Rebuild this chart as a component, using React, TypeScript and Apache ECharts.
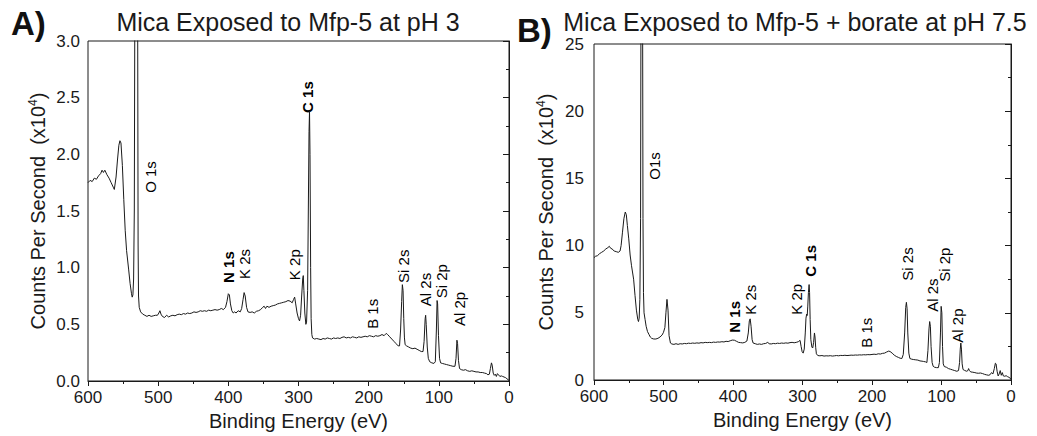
import React, { useEffect, useRef } from "react";
import * as echarts from "echarts";

const FONT = '"Liberation Sans", Arial, Helvetica, sans-serif';
const INK = "#1a1a1a";

// ---------- Panel A: Mica exposed to Mfp-5 at pH 3 (counts x10^4) ----------
const energyA = [
  600, 597, 594, 591, 588, 585, 582, 580, 578, 576, 573, 570, 567, 564, 562.5, 560, 558, 556, 554.5, 553, 551, 549, 547, 545, 542, 540, 538, 537, 536, 535, 534, 533.2, 532, 530.5, 529.3, 528.6, 528, 527, 525, 522, 519, 516, 513, 510, 507, 504, 501, 499, 497.5, 496, 494, 491, 488, 485, 482, 479, 476, 473, 470, 467, 464, 461, 458, 455, 452, 449, 446, 443, 440, 437, 434, 431, 428, 425, 422, 419, 416, 413, 410, 407, 404, 402, 400, 398.5, 397, 395, 393, 391, 389, 386, 383, 381, 379, 377.5, 376, 374, 372, 369, 366, 363, 360, 357, 354, 351, 349, 347, 345, 342, 339, 336, 333, 330, 327, 324, 321, 318, 315, 312, 309, 307, 305.5, 304, 302, 300, 298.5, 297, 295.5, 294, 293.2, 292.3, 291, 289.5, 288.5, 287, 286, 285, 284.3, 283.6, 282.7, 282, 281, 280, 277, 274, 271, 268, 265, 262, 259, 256, 253, 250, 247, 244, 241, 238, 235, 232, 229, 226, 223, 220, 217, 214, 211, 208, 205, 202, 199, 196, 193, 190, 187, 184, 181, 178, 175, 173, 170, 167, 164, 161, 158, 156, 154.5, 153, 152, 151, 150, 149, 148, 146, 143, 140, 137, 134, 131, 128, 125, 122.5, 121, 119.5, 118.8, 118, 116.5, 115, 113, 110, 107, 105, 103.5, 102.5, 101.7, 100.5, 99, 97.5, 95, 92, 89, 86, 83, 80, 77, 75.5, 74.2, 73.3, 72, 70.5, 68, 65, 62, 59, 56, 53, 50, 47, 44, 41, 38, 35, 32, 30, 28, 26.5, 25, 24, 22.5, 21, 19.5, 18, 16.5, 15, 13, 11, 9, 7, 5, 3, 1, 0,
];
const countsA = [
  1.75, 1.77, 1.76, 1.79, 1.78, 1.81, 1.83, 1.86, 1.84, 1.86, 1.82, 1.79, 1.75, 1.71, 1.69, 1.8, 1.95, 2.08, 2.12, 2.1, 1.9, 1.6, 1.33, 1.15, 0.98, 0.86, 0.77, 0.74, 0.76, 0.9, 1.5, 3.5, 20, 20, 3.5, 1.2, 0.75, 0.65, 0.61, 0.59, 0.58, 0.57, 0.58, 0.57, 0.575, 0.58, 0.58, 0.6, 0.62, 0.59, 0.57, 0.56, 0.58, 0.565, 0.575, 0.58, 0.575, 0.585, 0.59, 0.585, 0.595, 0.59, 0.6, 0.595, 0.6, 0.61, 0.605, 0.61, 0.62, 0.615, 0.62, 0.615, 0.625, 0.62, 0.625, 0.63, 0.625, 0.63, 0.64, 0.63, 0.65, 0.7, 0.77, 0.76, 0.68, 0.62, 0.6, 0.61, 0.6, 0.62, 0.61, 0.64, 0.72, 0.78, 0.75, 0.65, 0.61, 0.605, 0.61, 0.6, 0.615, 0.62, 0.63, 0.65, 0.66, 0.64, 0.66, 0.65, 0.66, 0.665, 0.67, 0.68, 0.685, 0.69, 0.695, 0.7, 0.71, 0.705, 0.69, 0.72, 0.74, 0.68, 0.6, 0.55, 0.53, 0.58, 0.75, 0.9, 0.93, 0.8, 0.6, 0.5, 0.52, 0.8, 1.5, 2.2, 2.38, 2.0, 1.0, 0.55, 0.41, 0.38, 0.37, 0.375, 0.37, 0.365, 0.375, 0.37, 0.38, 0.375, 0.37, 0.38, 0.375, 0.38, 0.375, 0.385, 0.39, 0.38, 0.385, 0.38, 0.39, 0.385, 0.38, 0.39, 0.385, 0.39, 0.395, 0.39, 0.4, 0.395, 0.39, 0.4, 0.395, 0.4, 0.41, 0.4, 0.42, 0.41, 0.39, 0.37, 0.35, 0.33, 0.31, 0.31, 0.45, 0.7, 0.85, 0.8, 0.55, 0.38, 0.32, 0.31, 0.3, 0.29, 0.285, 0.29, 0.28, 0.27, 0.26, 0.26, 0.35, 0.55, 0.58, 0.5, 0.3, 0.2, 0.17, 0.16, 0.155, 0.17, 0.45, 0.71, 0.68, 0.4, 0.2, 0.16, 0.155, 0.15, 0.145, 0.14, 0.135, 0.13, 0.13, 0.2, 0.36, 0.33, 0.18, 0.11, 0.1, 0.095, 0.1, 0.09, 0.085, 0.09, 0.085, 0.08, 0.08, 0.075, 0.075, 0.07, 0.065, 0.055, 0.06, 0.11, 0.16, 0.14, 0.07, 0.05, 0.06, 0.04, 0.065, 0.055, 0.04, 0.045, 0.04, 0.035, 0.03, 0.02, 0.01, 0.005,
];
const peakLabelsA = ["O 1s", "N 1s", "K 2s", "K 2p", "C 1s", "B 1s", "Si 2s", "Al 2s", "Si 2p", "Al 2p"];
const peakEnergyA = [511.6, 399.1, 377, 306.4, 287.2, 193.9, 151, 119.7, 95.5, 69.9];
const peakLabelBaseA = [1.66, 0.865, 0.9, 0.89, 2.365, 0.46, 0.865, 0.66, 0.73, 0.485];
const peakBoldA = [false, true, false, false, true, false, false, false, false, false];

// ---------- Panel B: Mica exposed to Mfp-5 + borate at pH 7.5 (counts x10^4) ----------
const energyB = [
  600, 598, 595, 592, 589, 586, 583, 580, 578, 576, 574, 571, 568, 565, 562.5, 561, 559, 557, 555, 553.5, 552, 550, 548, 546, 543, 541, 539, 537, 536, 535, 534, 533, 532, 530.5, 529.5, 528.8, 528, 526.5, 525, 523, 521, 519, 517, 514, 511, 508, 505, 502, 500, 498, 496.5, 495, 493.5, 492, 490, 488, 485, 482, 479, 476, 473, 470, 467, 464, 461, 458, 455, 452, 449, 446, 443, 440, 437, 434, 431, 428, 425, 422, 419, 416, 413, 410, 407, 404, 401, 398, 395, 392, 389, 386, 383, 380, 378, 376.5, 375.3, 374, 372.5, 371, 368, 365, 362, 359, 356, 353, 350, 348, 345, 342, 339, 336, 333, 330, 327, 324, 321, 318, 315, 312, 309, 306, 303.5, 302, 300.5, 299, 297.5, 296, 295, 294, 293.2, 292.4, 291.5, 290.5, 289.8, 289, 288, 286.5, 285.3, 284, 282.8, 282, 281, 280, 278, 275, 272, 269, 266, 263, 260, 257, 254, 251, 248, 245, 242, 239, 236, 233, 230, 227, 224, 221, 218, 215, 212, 209, 206, 203, 200, 197, 194, 191, 188, 185, 182, 179, 176, 174, 171, 168, 165, 162, 159.5, 157, 155, 153, 151.5, 150.5, 149.5, 148.5, 147, 145.5, 143, 140, 137, 134, 131, 128, 126, 123, 121, 119.5, 118, 117, 116, 115, 113.5, 112, 110, 107, 104.5, 103, 101.5, 100.5, 99.5, 98.5, 97.5, 96, 93, 90, 87, 84, 81, 78, 75.5, 74, 73, 72.2, 71.3, 70.3, 69, 67, 64, 62, 61, 60, 58, 55, 52, 50, 47, 44, 41, 38, 35, 32, 30, 28, 26, 24, 22.5, 21.5, 20, 18.5, 17, 15.5, 14, 12.5, 11, 9, 7, 5, 3, 1, 0,
];
const countsB = [
  9.1, 9.2, 9.25, 9.4, 9.5, 9.6, 9.75, 9.85, 9.95, 9.8, 9.75, 9.6, 9.55, 9.5, 9.6, 10.0, 11.0, 12.0, 12.5, 12.3, 11.5, 10.5, 9.3, 8.5, 7.5, 6.3, 5.2, 4.5, 4.35, 4.6, 6.0, 12, 40, 40, 12, 6.5, 5.0, 4.5, 4.0, 3.6, 3.4, 3.2, 3.1, 3.05, 3.05, 3.1, 3.2, 3.35, 3.55, 3.9, 5.0, 6.0, 5.2, 3.3, 2.75, 2.68, 2.65, 2.7, 2.65, 2.7, 2.68, 2.72, 2.7, 2.74, 2.72, 2.75, 2.73, 2.76, 2.74, 2.78, 2.76, 2.8, 2.78, 2.8, 2.78, 2.82, 2.8, 2.83, 2.82, 2.85, 2.83, 2.88, 2.86, 2.92, 2.97, 2.96, 2.88, 2.8, 2.78, 2.76, 2.8, 2.9, 3.5, 4.4, 4.55, 4.0, 3.0, 2.75, 2.7, 2.65, 2.68, 2.65, 2.7, 2.72, 2.8, 2.7, 2.68, 2.72, 2.7, 2.74, 2.72, 2.75, 2.73, 2.76, 2.74, 2.78, 2.8, 2.77, 2.8, 2.85, 2.95, 2.5, 2.1, 2.0, 2.3, 3.5, 4.6, 4.9, 4.8, 5.5, 6.5, 7.1, 6.5, 4.5, 3.0, 2.45, 2.38, 2.8, 3.5, 3.2, 2.4, 1.95, 1.82, 1.8, 1.82, 1.78, 1.8, 1.79, 1.81, 1.78, 1.8, 1.82, 1.8, 1.83, 1.82, 1.84, 1.82, 1.83, 1.85, 1.84, 1.86, 1.85, 1.87, 1.86, 1.88, 1.87, 1.89, 1.88, 1.9, 1.92, 1.9, 1.95, 1.93, 1.98, 2.0, 2.08, 2.15, 2.12, 2.0, 1.85, 1.75, 1.68, 1.62, 1.6, 1.9, 3.5, 5.4, 5.78, 5.3, 3.5, 2.0, 1.6, 1.55, 1.52, 1.5, 1.48, 1.42, 1.4, 1.38, 1.35, 1.3, 2.2, 3.8, 4.35, 4.0, 2.5, 1.3, 1.02, 0.95, 0.92, 0.92, 1.3, 3.5, 5.48, 5.0, 2.5, 1.2, 1.0, 0.95, 0.85, 0.8, 0.75, 0.7, 0.65, 0.7, 1.3, 2.3, 2.75, 2.3, 1.2, 0.78, 0.72, 0.65, 0.7, 0.85, 0.72, 0.6, 0.58, 0.55, 0.52, 0.5, 0.52, 0.48, 0.42, 0.38, 0.35, 0.4, 0.55, 0.45, 0.85, 1.25, 1.2, 0.65, 0.3, 0.45, 0.7, 0.35, 0.55, 0.3, 0.28, 0.32, 0.25, 0.2, 0.12, 0.1,
];
const peakLabelsB = ["O1s", "N 1s", "K 2s", "K 2p", "C 1s", "B 1s", "Si 2s", "Al 2s", "Si 2p", "Al 2p"];
const peakEnergyB = [513, 397.8, 375.5, 308.6, 289.2, 207.2, 149.6, 113, 96.4, 76.3];
const peakLabelBaseB = [14.9, 3.52, 4.86, 4.86, 7.69, 2.4, 7.39, 5.08, 7.31, 2.78];
const peakBoldB = [false, true, false, false, true, false, false, false, false, false];

const titleA = "Mica Exposed to Mfp-5 at pH 3";
const titleB = "Mica Exposed to Mfp-5 + borate at pH 7.5";
const xName = "Binding Energy (eV)";
const yName = "Counts Per Second  (x10{sup|4})";

function pairs(xs: number[], ys: number[]) {
  return xs.map((x, i) => [x, ys[i]]);
}

function annotations(labels: string[], es: number[], hs: number[], bold: boolean[]) {
  return labels.map((l, i) => ({
    name: l,
    value: [es[i], hs[i]],
    label: { fontWeight: bold[i] ? "bold" : "normal" },
  }));
}

function xAxisCfg(gridIndex: number) {
  return {
    type: "value",
    gridIndex,
    min: 0,
    max: 600,
    interval: 100,
    inverse: true,
    name: xName,
    nameLocation: "middle",
    nameGap: 30,
    nameTextStyle: { fontFamily: FONT, fontSize: 20, color: INK },
    axisLine: { show: true, onZero: false, lineStyle: { color: INK, width: 1 } },
    axisTick: { show: true, length: 5, lineStyle: { color: INK } },
    minorTick: { show: true, splitNumber: 2, length: 3, lineStyle: { color: INK } },
    axisLabel: { fontFamily: FONT, fontSize: 17, color: INK, margin: 8 },
    splitLine: { show: false },
    minorSplitLine: { show: false },
  };
}

function yAxisCfg(gridIndex: number, max: number, interval: number, digits: number, gap: number, margin: number) {
  return {
    type: "value",
    gridIndex,
    min: 0,
    max,
    interval,
    name: yName,
    nameLocation: "middle",
    nameRotate: 90,
    nameGap: gap,
    nameTextStyle: {
      fontFamily: FONT,
      fontSize: 20,
      color: INK,
      rich: {
        sup: { fontFamily: FONT, fontSize: 12, color: INK, verticalAlign: "top", lineHeight: 22 },
      },
    },
    axisLine: { show: true, lineStyle: { color: INK, width: 1 } },
    axisTick: { show: true, length: 6, lineStyle: { color: INK } },
    minorTick: { show: true, splitNumber: 2, length: 3, lineStyle: { color: INK } },
    axisLabel: {
      fontFamily: FONT,
      fontSize: 17,
      color: INK,
      margin,
      formatter: (v: number) => v.toFixed(digits),
    },
    splitLine: { show: false },
    minorSplitLine: { show: false },
  };
}

function labelSeries(idx: number, data: any[]) {
  return {
    type: "scatter",
    xAxisIndex: idx,
    yAxisIndex: idx,
    symbolSize: 1,
    itemStyle: { color: "rgba(0,0,0,0)", opacity: 1 },
    silent: true,
    data,
    label: {
      show: true,
      formatter: (p: any) => p.name,
      position: "inside",
      rotate: 90,
      align: "left",
      verticalAlign: "middle",
      fontFamily: FONT,
      fontSize: 15,
      color: "#000",
      opacity: 1,
      textBorderWidth: 0,
    },
  };
}

function spectrumSeries(idx: number, xs: number[], ys: number[]) {
  return {
    type: "line",
    xAxisIndex: idx,
    yAxisIndex: idx,
    data: pairs(xs, ys),
    showSymbol: false,
    symbol: "none",
    clip: true,
    lineStyle: { color: INK, width: 1 },
  };
}

export default function App() {
  const ref = useRef<HTMLDivElement>(null);
  useEffect(() => {
    document.body.style.margin = "0";
    if (!ref.current) return;
    const chart = echarts.init(ref.current, undefined, { renderer: "svg" });
    const option: any = {
      animation: false,
      backgroundColor: "#ffffff",
      grid: [
        { left: 88, top: 41, width: 421, height: 340, show: true, borderColor: INK, borderWidth: 1, backgroundColor: "transparent" },
        { left: 594, top: 44, width: 417, height: 336, show: true, borderColor: INK, borderWidth: 1, backgroundColor: "transparent" },
      ],
      xAxis: [xAxisCfg(0), xAxisCfg(1)],
      yAxis: [yAxisCfg(0, 3, 0.5, 1, 39, 8), yAxisCfg(1, 25, 5, 0, 37, 10)],
      series: [
        spectrumSeries(0, energyA, countsA),
        spectrumSeries(1, energyB, countsB),
        labelSeries(0, annotations(peakLabelsA, peakEnergyA, peakLabelBaseA, peakBoldA)),
        labelSeries(1, annotations(peakLabelsB, peakEnergyB, peakLabelBaseB, peakBoldB)),
      ],
      graphic: [
        {
          type: "text",
          x: 288,
          y: 22,
          style: { text: titleA, fontFamily: FONT, fontSize: 25, fill: INK, align: "center", verticalAlign: "middle", textAlign: "center", textVerticalAlign: "middle" },
        },
        {
          type: "text",
          x: 795,
          y: 22,
          style: { text: titleB, fontFamily: FONT, fontSize: 25, fill: INK, align: "center", verticalAlign: "middle", textAlign: "center", textVerticalAlign: "middle" },
        },
        {
          type: "text",
          x: 11,
          y: 23,
          style: { text: "A)", fontFamily: FONT, fontSize: 33, fontWeight: "bold", fill: "#111", align: "left", verticalAlign: "middle", textAlign: "left", textVerticalAlign: "middle" },
        },
        {
          type: "text",
          x: 517,
          y: 30,
          style: { text: "B)", fontFamily: FONT, fontSize: 33, fontWeight: "bold", fill: "#111", align: "left", verticalAlign: "middle", textAlign: "left", textVerticalAlign: "middle" },
        },
      ],
    };
    chart.setOption(option);
    return () => chart.dispose();
  }, []);
  return <div ref={ref} style={{ width: 1037, height: 436 }} />;
}
